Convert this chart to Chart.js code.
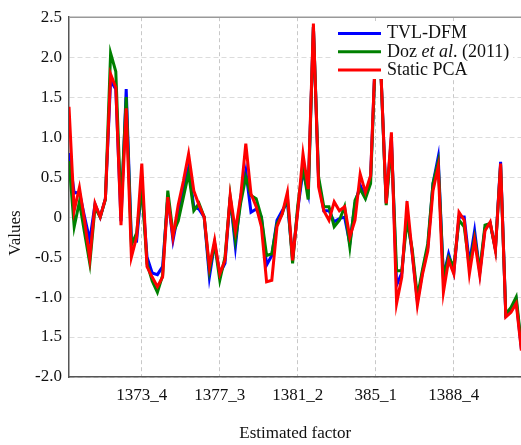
<!DOCTYPE html>
<html>
<head>
<meta charset="utf-8">
<script src="https://cdn.jsdelivr.net/npm/chart.js@4"></script>
<style>
  html, body { margin: 0; padding: 0; background: #fff; overflow: hidden; }
  #wrap { width: 521px; height: 445px; overflow: hidden; }
</style>
</head>
<body>
<div id="wrap"><canvas id="chart1" width="530" height="445"></canvas></div>
<script>
// quarter index 0 = 1370_2, one point per quarter
const tvlDfm = [0.80, 0.30, 0.31, 0.00, -0.29, 0.16, 0.00, 0.23, 1.71, 1.60,
  -0.05, 1.60, -0.29, -0.30, 0.40, -0.50, -0.70, -0.72, -0.62, 0.25,
  -0.29, 0.05, 0.35, 0.62, 0.13, 0.10, 0.00, -0.75, -0.33, -0.71,
  -0.58, 0.25, -0.37, 0.25, 0.58, 0.06, 0.10, 0.00, -0.60, -0.48,
  -0.04, 0.08, 0.19, -0.52, 0.10, 0.58, 0.30, 2.38, 0.45, 0.08,
  0.08, -0.06, -0.02, 0.00, -0.33, 0.17, 0.40, 0.25, 0.50, 2.18,
  1.78, 0.18, 1.00, -0.85, -0.70, 0.05, -0.45, -1.05, -0.68, -0.38,
  0.42, 0.75, -0.75, -0.46, -0.69, 0.00, 0.00, -0.58, -0.17, -0.69,
  -0.14, -0.08, -0.40, 0.69, -1.23, -1.17, -1.04, -1.65];
const doz2011 = [0.70, -0.12, 0.19, -0.20, -0.58, 0.12, 0.00, 0.22, 2.05, 1.82,
  0.10, 1.50, -0.35, -0.20, 0.37, -0.58, -0.80, -0.94, -0.73, 0.33,
  -0.20, -0.05, 0.25, 0.55, 0.08, 0.17, 0.00, -0.67, -0.33, -0.79,
  -0.50, 0.25, -0.29, 0.17, 0.50, 0.27, 0.23, 0.00, -0.48, -0.46,
  -0.08, 0.04, 0.25, -0.58, 0.15, 0.63, 0.22, 2.38, 0.50, 0.13,
  0.13, -0.12, -0.04, 0.13, -0.37, 0.21, 0.35, 0.23, 0.42, 2.15,
  1.78, 0.15, 0.92, -0.67, -0.67, -0.05, -0.40, -1.00, -0.65, -0.33,
  0.42, 0.69, -0.75, -0.50, -0.62, -0.04, -0.12, -0.62, -0.25, -0.67,
  -0.10, -0.08, -0.40, 0.65, -1.21, -1.13, -1.00, -1.60];
const staticPca = [1.38, 0.08, 0.37, -0.05, -0.52, 0.17, 0.00, 0.23, 1.79, 1.62,
  -0.10, 1.36, -0.50, -0.25, 0.67, -0.62, -0.75, -0.87, -0.75, 0.25,
  -0.25, 0.15, 0.45, 0.79, 0.33, 0.15, 0.00, -0.62, -0.29, -0.71,
  -0.54, 0.27, -0.17, 0.25, 0.92, 0.29, 0.13, -0.12, -0.81, -0.79,
  -0.12, 0.04, 0.31, -0.54, 0.08, 0.79, 0.35, 2.42, 0.38, 0.08,
  -0.04, 0.19, 0.08, 0.13, -0.25, -0.04, 0.54, 0.31, 0.52, 2.20,
  1.80, 0.17, 1.06, -1.08, -0.75, 0.20, -0.45, -1.10, -0.71, -0.42,
  0.33, 0.63, -0.94, -0.54, -0.71, 0.06, -0.04, -0.71, -0.29, -0.73,
  -0.17, -0.06, -0.42, 0.67, -1.25, -1.19, -1.08, -1.67];

const xTickIdx = [14, 29, 44, 59, 74];
const xTickText = ["1373_4", "1377_3", "1381_2", "385_1", "1388_4"];
const yTickVals = [-2.0, -1.5, -1.0, -0.5, 0, 0.5, 1.0, 1.5, 2.0, 2.5];
const yTickText = ["-2.0", "1.5", "-1.0", "-0.5", "0", "0.5", "1.0", "1.5", "2.0", "2.5"];
const seriesNames = ["TVL-DFM", "Doz et al. (2011)", "Static PCA"];
const seriesColors = ["#0000ff", "#008000", "#ff0000"];

const serif = "'Liberation Serif', 'DejaVu Serif', serif";

function toPoints(arr) {
  return arr.map((v, i) => ({ x: i, y: v }));
}

// titles, top border and the in-plot legend
const decorations = {
  id: "decorations",
  afterDraw(chart) {
    const ctx = chart.ctx;
    const a = chart.chartArea;
    ctx.save();
    ctx.strokeStyle = "#999";
    ctx.lineWidth = 1.5;
    ctx.beginPath();
    ctx.moveTo(a.left, a.top);
    ctx.lineTo(a.right + 10, a.top);
    ctx.stroke();

    ctx.fillStyle = "#111";
    ctx.font = "17px " + serif;
    ctx.textAlign = "center";
    ctx.textBaseline = "middle";
    ctx.fillText("Estimated factor", (a.left + a.right) / 2, 434);
    ctx.save();
    ctx.translate(16, 233);
    ctx.rotate(-Math.PI / 2);
    ctx.fillText("Values", 0, 0);
    ctx.restore();

    // legend
    ctx.fillStyle = "#fff";
    ctx.fillRect(333, 21, 180, 58);
    ctx.font = "18px " + serif;
    ctx.textAlign = "left";
    const rows = [33.5, 51.8, 70];
    rows.forEach((y, k) => {
      ctx.strokeStyle = seriesColors[k];
      ctx.lineWidth = 3;
      ctx.beginPath();
      ctx.moveTo(338, y);
      ctx.lineTo(381, y);
      ctx.stroke();
      ctx.fillStyle = "#111";
      let x = 387;
      if (k === 1) {
        ctx.font = "18px " + serif;
        ctx.fillText("Doz ", x, y);
        x += ctx.measureText("Doz ").width;
        ctx.font = "italic 18px " + serif;
        ctx.fillText("et al", x, y);
        x += ctx.measureText("et al").width;
        ctx.font = "18px " + serif;
        ctx.fillText(". (2011)", x, y);
      } else {
        ctx.font = "18px " + serif;
        ctx.fillText(seriesNames[k], x, y);
      }
    });
    ctx.restore();
  },
};

const ctx1 = document.getElementById("chart1").getContext("2d");
const factorChart = new Chart(ctx1, {
  type: "line",
  data: {
    datasets: [
      { label: seriesNames[2], data: toPoints(staticPca), borderColor: seriesColors[2], order: 1 },
      { label: seriesNames[1], data: toPoints(doz2011), borderColor: seriesColors[1], order: 2 },
      { label: seriesNames[0], data: toPoints(tvlDfm), borderColor: seriesColors[0], order: 3 },
    ],
  },
  plugins: [decorations],
  options: {
    responsive: false,
    animation: false,
    devicePixelRatio: 1,
    layout: { padding: { top: 17, right: 8.6, left: 0, bottom: 0 } },
    elements: {
      point: { radius: 0 },
      line: { borderWidth: 3, tension: 0, borderJoinStyle: "miter" },
    },
    plugins: { legend: { display: false }, tooltip: { enabled: false } },
    scales: {
      x: {
        type: "linear",
        min: 0,
        max: tvlDfm.length - 1,
        afterBuildTicks(scale) {
          scale.ticks = xTickIdx.map((v) => ({ value: v }));
        },
        afterFit(scale) {
          scale.height = 445 - 377;
        },
        ticks: {
          autoSkip: false,
          maxRotation: 0,
          padding: 8,
          color: "#111",
          font: { family: serif, size: 17 },
          callback: (v) => xTickText[xTickIdx.indexOf(v)],
        },
        grid: { color: "#c8c8c8", lineWidth: 1, drawTicks: false },
        border: { color: "#555", width: 1.5, dash: [4, 3] },
      },
      y: {
        min: -2.0,
        max: 2.5,
        afterBuildTicks(scale) {
          scale.ticks = yTickVals.map((v) => ({ value: v }));
        },
        afterFit(scale) {
          scale.width = 69;
        },
        ticks: {
          padding: 7,
          color: "#111",
          font: { family: serif, size: 17 },
          callback: (v) => yTickText[yTickVals.indexOf(v)],
        },
        grid: { color: "#dcdcdc", lineWidth: 1, drawTicks: false },
        border: { color: "#555", width: 1.5, dash: [5, 3] },
      },
    },
  },
});
</script>
</body>
</html>
